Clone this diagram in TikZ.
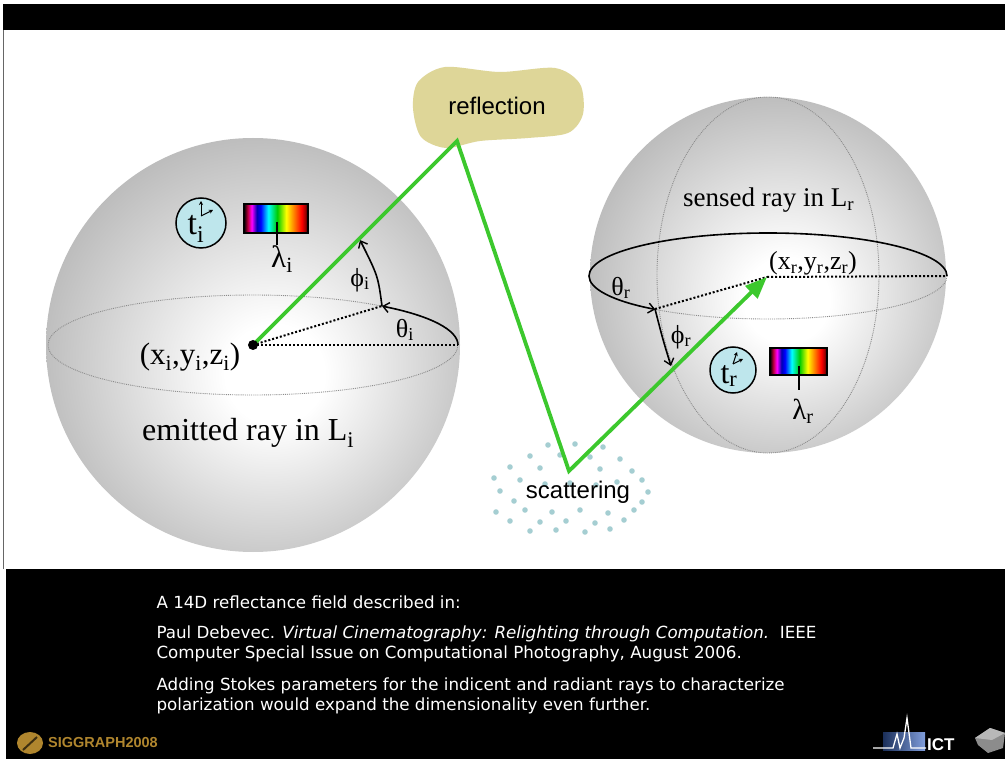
\documentclass[tikz,border=0pt]{standalone}
\usepackage{fontspec}
\setmainfont{Liberation Serif}
\newfontfamily\blobfont{Liberation Sans}
\newfontfamily\notefont{DejaVu Sans}
\usetikzlibrary{arrows.meta,calc}
\definecolor{rayGreen}{RGB}{60,200,45}
\definecolor{blobTan}{RGB}{222,214,152}
\definecolor{dropTeal}{RGB}{165,206,210}
\definecolor{clockBlue}{RGB}{190,230,236}
\definecolor{logoGold}{RGB}{176,134,46}
\definecolor{ictBlue}{RGB}{60,105,200}
% soft grey globes and the little rainbow bars
\pgfdeclareradialshading{globe}{\pgfpoint{3bp}{-4bp}}{color(0bp)=(white); color(6bp)=(white); color(28bp)=(black!27); color(50bp)=(black!27)}
\pgfdeclarehorizontalshading{spectrum}{100bp}{color(0bp)=(black); color(25bp)=(black); color(28bp)=(purple); color(31bp)=(magenta); color(35bp)=(blue!70!black); color(38bp)=(blue); color(44bp)=(cyan); color(51bp)=(green!80!black); color(58bp)=(yellow); color(64bp)=(orange); color(70bp)=(red); color(73bp)=(red!60!black); color(75bp)=(black); color(100bp)=(black)}

\begin{document}
\begin{tikzpicture}[x=1pt,y=-1pt,every node/.style={inner sep=0pt},
  ray/.style={rayGreen,line width=3.8pt,line join=miter},
  guide/.style={black!45,densely dotted,line width=0.9pt},
  dir/.style={black,dotted,line width=2pt},
  angarc/.style={black,line width=1.6pt,-{Straight Barb[length=6pt,width=10pt,line width=1.4pt]}},
  hand/.style={black,line width=1pt,-{Stealth[length=4pt,width=4pt]}},
  lbl/.style={font=\fontsize{26}{26}\selectfont},
  big/.style={font=\fontsize{32}{32}\selectfont}]
  \useasboundingbox (0,0) rectangle (1005,759);
  % slide frame
  \fill[white] (0,0) rectangle (1005,759);
  \fill[black] (3,4) rectangle (1005,30);
  \fill[black] (6,569) rectangle (1005,759);
  \draw[black!60,line width=0.6pt] (3.5,30) -- (3.5,569);

  \coordinate (pi) at (253,345); \coordinate (pr) at (767,277);
  \coordinate (refl) at (457,141); \coordinate (scat) at (569,471);
  \coordinate (thi) at (382,306); \coordinate (thr) at (655,309);

  % the two spheres
  \shade[shading=globe] (pi) circle[radius=207];
  \shade[shading=globe] (768,275) circle[radius=178];
  \draw[guide] (pi) ellipse[x radius=205, y radius=50];
  \draw[guide] (768,275) ellipse[x radius=111, y radius=178];
  \draw[guide] (947,276) arc[start angle=0,end angle=180,x radius=179,y radius=43];
  \draw[black,line width=1.6pt] (589,276) arc[start angle=180,end angle=360,x radius=179,y radius=43];

  % angles at the emitting point
  \draw[dir] (pi) -- (458,345);
  \draw[dir] (pi) -- (thi);
  \draw[angarc] (458,345) arc[start angle=0,end angle=-51,x radius=205,y radius=50];
  \draw[angarc] (thi) .. controls (378,276) .. (360,240);
  \node[lbl] (thetai) at (405,330) {θ\textsubscript{i}};
  \node[lbl] (phii) at (360,280) {ϕ\textsubscript{i}};

  % angles at the sensing point
  \draw[dir] (pr) -- (947,276);
  \draw[dir] (thr) -- (pr);
  \draw[angarc] (589,276) arc[start angle=180,end angle=129,x radius=179,y radius=43];
  \draw[angarc] (thr) .. controls (663,340) .. (671,366);
  \node[lbl] (thetar) at (621,288) {θ\textsubscript{r}};
  \node[lbl] (phir) at (681,337) {ϕ\textsubscript{r}};

  % reflection blob and scattering cloud
  \fill[blobTan] plot[smooth cycle] coordinates {(418,82) (445,67) (500,72) (555,68) (580,84) (583,114) (568,133) (528,138) (480,141) (446,148) (421,137) (413,108)};
  \node[font=\blobfont\fontsize{24}{24}\selectfont] (refltxt) at (497,106) {reflection};
  \foreach \dx/\dy in {548/445,575/444,603/447,530/456,560/455,590/457,620/459,
      510/467,540/468,600/469,632/471,494/478,520/480,617/482,642/480,545/484,
      570/483,596/485,500/491,648/492,514/501,642/502,496/512,525/510,552/512,
      580/510,608/513,634/510,510/521,540/522,566/521,595/523,624/520,530/531,
      556/530,585/532,610/529}
    \fill[dropTeal] (\dx,\dy) circle[radius=2.8];
  \node[font=\blobfont\fontsize{24}{24}\selectfont] (scattxt) at (578,492) {scattering};

  % the light path
  \draw[ray,-{Triangle[length=22pt,width=17pt]}] (pi) -- (refl) -- (scat) -- (pr);
  \fill (pi) circle[radius=5];

  % clocks and spectra
  \draw[fill=clockBlue,line width=1.5pt] (201,223) circle[radius=25];
  \node[font=\fontsize{34}{34}\selectfont] (ti) at (196,229) {t\textsubscript{i}};
  \draw[hand] (201,216) -- (201,201);
  \draw[hand] (201,216) -- (213,210);
  \shade[shading=spectrum,draw=black,line width=1.5pt] (244,204) rectangle (308,233);
  \draw[line width=1.5pt] (277,222) -- (277,245);
  \node[font=\fontsize{31}{31}\selectfont] (lami) at (282,259) {λ\textsubscript{i}};

  \draw[fill=clockBlue,line width=1.5pt] (733,370) circle[radius=23];
  \node[font=\fontsize{32}{32}\selectfont] (tr) at (729,376) {t\textsubscript{r}};
  \draw[hand] (733,364) -- (737,352);
  \draw[hand] (733,364) -- (743,359);
  \shade[shading=spectrum,draw=black,line width=1.5pt] (770,348) rectangle (827,375);
  \draw[line width=1.5pt] (799,366) -- (799,390);
  \node[font=\fontsize{29}{29}\selectfont] (lamr) at (803,411) {λ\textsubscript{r}};

  % point and sphere labels
  \node[font=\fontsize{31}{31}\selectfont,anchor=base] (xi) at (190,365) {(x\textsubscript{i},y\textsubscript{i},z\textsubscript{i})};
  \node[font=\fontsize{26}{26}\selectfont,anchor=base] (xr) at (813,270) {(x\textsubscript{r},y\textsubscript{r},z\textsubscript{r})};
  \node[big,anchor=base west] (emit) at (142,441) {emitted ray in L\textsubscript{i}};
  \node[font=\fontsize{27}{27}\selectfont,anchor=base west] (sense) at (683,207) {sensed ray in L\textsubscript{r}};

  % caption lines
  \begin{scope}[every node/.style={anchor=base west,text=white,font=\notefont\fontsize{16.7}{16.7}\selectfont}]
    \node (c1) at (153,608) {A 14D reflectance field described in:};
    \node (c2) at (153,638) {Paul Debevec. \textit{Virtual Cinematography: Relighting through Computation.}\ \ IEEE};
    \node (c3) at (153,658) {Computer Special Issue on Computational Photography, August 2006.};
    \node (c4) at (153,690) {Adding Stokes parameters for the indicent and radiant rays to characterize};
    \node (c5) at (153,710) {polarization would expand the dimensionality even further.};
  \end{scope}

  % logos
  \fill[logoGold] (30,743) ellipse[x radius=13, y radius=11];
  \draw[logoGold!35!black,line width=2pt] (23,750) -- (37,737);
  \node[font=\blobfont\bfseries\fontsize{14.5}{14.5}\selectfont,text=logoGold,anchor=west] (sg) at (48,743) {SIGGRAPH2008};
  \shade[left color=ictBlue!45!black,right color=ictBlue!65!white] (883,732) rectangle (925,750);
  \draw[white,line width=1.3pt] (873,748) -- (893,748) -- (897,734) -- (900,748) -- (904,738) -- (907,718) -- (911,748) -- (926,748);
  \node[font=\blobfont\bfseries\fontsize{17}{17}\selectfont,text=white,anchor=base west] (ict) at (927,750) {ICT};
  \fill[black!45] (975,738) -- (990,728) -- (1005,733) -- (1003,748) -- (988,753) -- (978,745) -- cycle;
  \fill[black!28] (990,728) -- (1005,733) -- (992,740) -- (975,738) -- cycle;
\end{tikzpicture}
\end{document}
